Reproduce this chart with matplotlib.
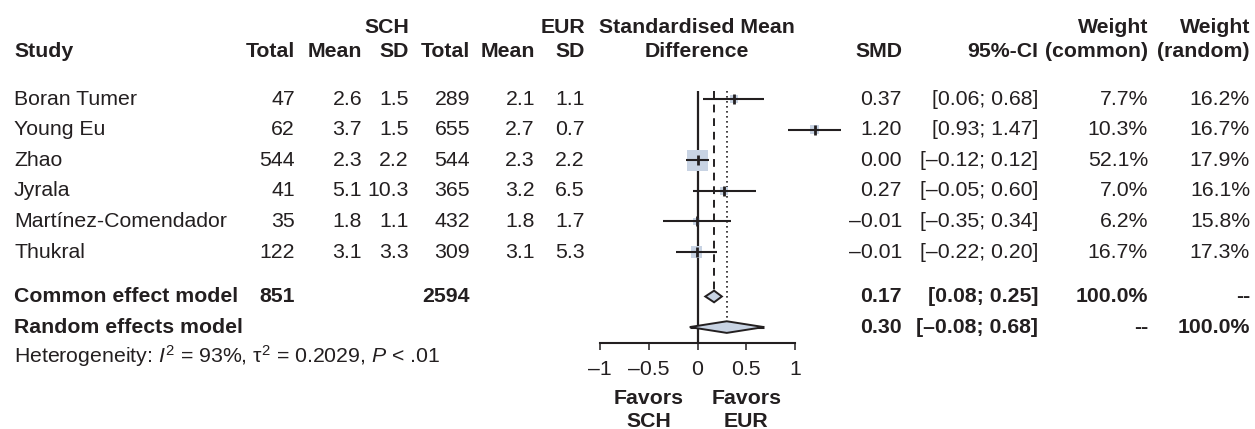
import numpy as np
import matplotlib
matplotlib.use("Agg")
import matplotlib.pyplot as plt
from matplotlib import transforms
from matplotlib.patches import Polygon

plt.rcParams["font.family"] = ["Liberation Sans", "DejaVu Sans"]
plt.rcParams["mathtext.fontset"] = "custom"
plt.rcParams["mathtext.rm"] = "Liberation Sans"
plt.rcParams["mathtext.it"] = "Liberation Sans:italic"
plt.rcParams["mathtext.bf"] = "Liberation Sans:bold"

# study data
studies = ["Boran Tumer", "Young Eu", "Zhao", "Jyrala", "Martínez-Comendador", "Thukral"]
sch_total = [47, 62, 544, 41, 35, 122]
sch_mean = [2.6, 3.7, 2.3, 5.1, 1.8, 3.1]
sch_sd = [1.5, 1.5, 2.2, 10.3, 1.1, 3.3]
eur_total = [289, 655, 544, 365, 432, 309]
eur_mean = [2.1, 2.7, 2.3, 3.2, 1.8, 3.1]
eur_sd = [1.1, 0.7, 2.2, 6.5, 1.7, 5.3]
smd = [0.37, 1.20, 0.00, 0.27, -0.01, -0.01]
ci_lo = [0.06, 0.93, -0.12, -0.05, -0.35, -0.22]
ci_hi = [0.68, 1.47, 0.12, 0.60, 0.34, 0.20]
w_common = [7.7, 10.3, 52.1, 7.0, 6.2, 16.7]
w_random = [16.2, 16.7, 17.9, 16.1, 15.8, 17.3]

# pooled estimates
common_est, common_lo, common_hi = 0.17, 0.08, 0.25
random_est, random_lo, random_hi = 0.30, -0.08, 0.68
common_n_sch, common_n_eur = 851, 2594
i2, tau2 = 93, 0.2029

ticks = [-1, -0.5, 0, 0.5, 1]

W, H = 1255, 429
INK = "#231f20"
FILL = "#c8d3e3"
FS = 15.3


def fmt(v, nd=2):
    s = f"{v:.{nd}f}"
    return s.replace("-", "\u2013")


top = -0.25
fig = plt.figure(figsize=(W / 100, H / 100), dpi=100)
ax = fig.add_axes([600 / W, (H - 343) / H, 195 / W, (343 - 91.4) / H])
ax.set_xlim(-1, 1)
ax.set_ylim(7.97, top)
for side in ["top", "right", "left"]:
    ax.spines[side].set_visible(False)
ax.spines["bottom"].set_linewidth(1.5)
ax.spines["bottom"].set_color(INK)
ax.set_yticks([])
ax.set_xticks(ticks)
ax.set_xticklabels([("%g" % t).replace("-", "\u2013") for t in ticks])
ax.tick_params(axis="x", length=5, width=1.1, color=INK, labelsize=FS,
               labelcolor=INK, pad=7)
ax.patch.set_alpha(0)

rows = np.arange(len(studies))
r_common, r_random = 6.45, 7.45
h = 0.19

# reference lines
ax.axvline(0, color=INK, lw=1.6, zorder=1)
ax.vlines(common_est, top, r_common - h, colors=INK, lw=1.4,
          linestyles=(0, (4, 3)), zorder=1)
ax.vlines(random_est, top, r_random - h, colors=INK, lw=1.2,
          linestyles=(0, (1, 2)), zorder=1)

# study squares and confidence intervals
sides = 2.91 * np.sqrt(w_common) * 0.72
ax.scatter(smd, rows, s=sides ** 2, marker="s", color=FILL, lw=0,
           zorder=2, clip_on=False)
ax.hlines(rows, ci_lo, ci_hi, colors=INK, lw=1.5, zorder=3, clip_on=False)
ax.scatter(smd, rows, s=50, marker="|", color=INK, lw=2, zorder=4,
           clip_on=False)

# pooled diamonds
ax.hlines(r_random, random_lo, random_hi, colors=INK, lw=2.2, zorder=2)
for est, lo, hi, r in [(common_est, common_lo, common_hi, r_common),
                       (random_est, random_lo, random_hi, r_random)]:
    ax.add_patch(Polygon([(lo, r), (est, r - h), (hi, r), (est, r + h)],
                         closed=True, facecolor=FILL, edgecolor=INK,
                         lw=1.4, zorder=5))

# text columns share the row scale of the forest axes
tr = transforms.blended_transform_factory(fig.transFigure, ax.transData)


def put(xpx, row, s, ha="right", bold=False, **kw):
    fig.text(xpx / W, row, s, transform=tr, ha=ha, va="center",
             fontsize=FS, color=INK, fontweight="bold" if bold else "normal",
             **kw)


r1, r2 = -2.35, -1.54
put(14, r2, "Study", ha="left", bold=True)
put(409, r1, "SCH", bold=True)
put(585, r1, "EUR", bold=True)
for x, s in [(295, "Total"), (362, "Mean"), (409, "SD"),
             (470, "Total"), (535, "Mean"), (585, "SD")]:
    put(x, r2, s, bold=True)
put(697, r1, "Standardised Mean", ha="center", bold=True)
put(697, r2, "Difference", ha="center", bold=True)
put(902, r2, "SMD", bold=True)
put(1038, r2, "95%-CI", bold=True)
put(1148, r1, "Weight", bold=True)
put(1148, r2, "(common)", bold=True)
put(1250, r1, "Weight", bold=True)
put(1250, r2, "(random)", bold=True)

for i in rows:
    put(14, i, studies[i], ha="left")
    put(295, i, str(sch_total[i]))
    put(362, i, fmt(sch_mean[i], 1))
    put(409, i, fmt(sch_sd[i], 1))
    put(470, i, str(eur_total[i]))
    put(535, i, fmt(eur_mean[i], 1))
    put(585, i, fmt(eur_sd[i], 1))
    put(902, i, fmt(smd[i]))
    put(1038, i, "[%s; %s]" % (fmt(ci_lo[i]), fmt(ci_hi[i])))
    put(1148, i, "%.1f%%" % w_common[i])
    put(1250, i, "%.1f%%" % w_random[i])

put(14, r_common, "Common effect model", ha="left", bold=True)
put(295, r_common, str(common_n_sch), bold=True)
put(470, r_common, str(common_n_eur), bold=True)
put(902, r_common, fmt(common_est), bold=True)
put(1038, r_common, "[%s; %s]" % (fmt(common_lo), fmt(common_hi)), bold=True)
put(1148, r_common, "%.1f%%" % sum(w_common), bold=True)
put(1250, r_common, "--", bold=True)

put(14, r_random, "Random effects model", ha="left", bold=True)
put(902, r_random, fmt(random_est), bold=True)
put(1038, r_random, "[%s; %s]" % (fmt(random_lo), fmt(random_hi)), bold=True)
put(1148, r_random, "--", bold=True)
put(1250, r_random, "%.1f%%" % sum(w_random), bold=True)

put(14, 8.4, r"Heterogeneity: $I^2$ = %d%%, τ$^2$ = %.4f, $P$ < .01" % (i2, tau2),
    ha="left")

# direction labels under the axis
for xpos, grp in [(-0.5, "SCH"), (0.5, "EUR")]:
    ax.text(xpos, 9.77, "Favors", ha="center", va="center", fontsize=FS,
            fontweight="bold", color=INK, clip_on=False)
    ax.text(xpos, 10.52, grp, ha="center", va="center", fontsize=FS,
            fontweight="bold", color=INK, clip_on=False)

fig.savefig("out.png", dpi=100)
